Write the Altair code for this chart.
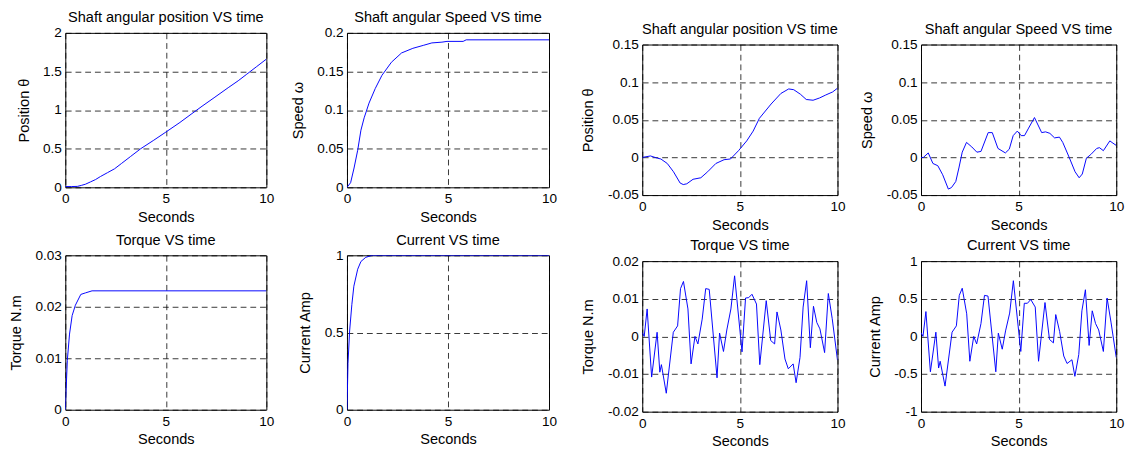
import altair as alt
import pandas as pd

FONT = "Liberation Sans"

# ---------------- data ----------------
# left figure: step response
t_pos_l = [0, 0.3, 0.6, 0.8, 1.0, 1.25, 1.5, 1.75, 2.1, 2.45, 2.8, 3.25, 3.75, 4.4, 5.0,
           5.7, 6.3, 6.8, 7.4, 8.1, 8.6, 9.0, 9.5, 10.0]
pos_l = [0.01, 0.01, 0.012, 0.025, 0.04, 0.07, 0.1, 0.14, 0.19, 0.24, 0.31, 0.40, 0.50, 0.61,
         0.715, 0.84, 0.955, 1.05, 1.16, 1.29, 1.38, 1.46, 1.56, 1.66]

t_spd_l = [0, 0.18, 0.35, 0.53, 0.69, 0.85, 1.09, 1.4, 1.73, 2.2, 2.7, 3.26, 3.8, 4.2, 4.7,
           4.95, 5.75, 5.9, 10]
spd_l = [0, 0.006, 0.025, 0.048, 0.074, 0.09, 0.109, 0.128, 0.145, 0.162, 0.174, 0.180,
         0.184, 0.187, 0.188, 0.189, 0.189, 0.191, 0.191]

t_trq_l = [0, 0.1, 0.21, 0.34, 0.5, 0.77, 1.0, 1.33, 10]
trq_l = [0, 0.0096, 0.0147, 0.0183, 0.0203, 0.0224, 0.0227, 0.0231, 0.0231]

t_cur_l = [0, 0.05, 0.13, 0.24, 0.34, 0.53, 0.69, 0.93, 1.25, 10]
cur_l = [0, 0.3, 0.51, 0.68, 0.80, 0.91, 0.96, 0.987, 1.0, 1.0]

# right figure: noisy response
t_pos_r = [0, 0.42, 0.78, 0.95, 1.28, 1.6, 1.94, 2.1, 2.28, 2.6, 3.0, 3.35, 3.77, 4.19, 4.52,
           4.93, 5.35, 5.68, 6.0, 6.6, 7.1, 7.5, 7.76, 8.1, 8.4, 8.75, 9.08, 9.4, 9.75, 10]
pos_r = [0.0, 0.002, -0.001, -0.002, -0.008, -0.019, -0.034, -0.036, -0.035, -0.029, -0.027,
         -0.019, -0.008, -0.003, -0.002, 0.009, 0.022, 0.035, 0.052, 0.071, 0.085, 0.091,
         0.09, 0.084, 0.077, 0.076, 0.079, 0.083, 0.087, 0.092]

t_spd_r = [0, 0.12, 0.37, 0.61, 0.86, 1.11, 1.4, 1.56, 1.78, 1.94, 2.11, 2.33, 2.6, 2.86, 3.07,
           3.44, 3.65, 3.94, 4.32, 4.52, 4.72, 4.93, 5.13, 5.3, 5.51, 5.81, 6.18, 6.38, 6.6,
           6.84, 7.09, 7.26, 7.59, 7.89, 8.1, 8.26, 8.47, 8.7, 9.0, 9.14, 9.34, 9.67, 9.83, 10]
spd_r = [0, 0.0, 0.006, -0.008, -0.011, -0.023, -0.042, -0.04, -0.032, -0.014, 0.007, 0.020,
         0.014, 0.007, 0.008, 0.033, 0.033, 0.012, 0.006, 0.011, 0.029, 0.035, 0.029, 0.029,
         0.039, 0.053, 0.033, 0.034, 0.032, 0.026, 0.027, 0.020, 0.0, -0.019, -0.027, -0.022,
         -0.001, 0.004, 0.012, 0.013, 0.009, 0.022, 0.019, 0.016]

t_noise = [0, 0.1, 0.25, 0.48, 0.76, 0.9, 0.98, 1.23, 1.59, 1.81, 1.96, 2.11, 2.34, 2.5, 2.7,
           2.85, 3.07, 3.25, 3.43, 3.83, 3.96, 4.16, 4.33, 4.54, 4.73, 5.11, 5.29, 5.45, 5.62,
           5.85, 6.02, 6.35, 6.58, 6.78, 6.9, 7.1, 7.31, 7.48, 7.73, 7.88, 8.08, 8.24, 8.42,
           8.61, 8.77, 8.94, 9.1, 9.34, 9.53, 9.73, 10]
trq_r = [0.001, 0.0, 0.0073, -0.0108, 0.0011, -0.0095, -0.0075, -0.0151, 0.0011, 0.0028,
         0.0127, 0.0146, 0.0073, -0.0073, 0.0, -0.002, 0.0046, 0.0127, 0.0125, -0.011,
         0.0009, -0.004, 0.0017, 0.0073, 0.0161, -0.0041, 0.0102, 0.0103, 0.0112, 0.0086,
         -0.0075, 0.0095, -0.0011, -0.002, 0.0065, 0.0017, -0.006, -0.0086, -0.0073, -0.0123,
         -0.0056, 0.0078, 0.0148, -0.003, 0.008, 0.0037, 0.002, -0.0043, 0.0114, 0.0047, -0.0063]
cur_r = [0.05, 0.0, 0.33, -0.47, 0.056, -0.42, -0.33, -0.66, 0.056, 0.14, 0.545, 0.64, 0.30,
         -0.33, 0.0, -0.1, 0.17, 0.545, 0.536, -0.47, 0.043, -0.17, 0.073, 0.31, 0.74, -0.20,
         0.44, 0.44, 0.49, 0.39, -0.33, 0.45, -0.04, -0.086, 0.29, 0.064, -0.26, -0.36, -0.31,
         -0.53, -0.24, 0.34, 0.62, -0.12, 0.34, 0.17, 0.086, -0.2, 0.51, 0.19, -0.28]

x_ticks = [0, 5, 10]


def panel(t, v, title, ytitle, ydom, yticks, w, h, ytp=12):
    df = pd.DataFrame({"t": t, "v": v})
    return (
        alt.Chart(df, title=alt.TitleParams(text=title, offset=1))
        .mark_line(color="#0000ff", strokeWidth=1, clip=True)
        .encode(
            x=alt.X("t:Q", scale=alt.Scale(domain=[0, 10], nice=False, zero=False),
                    axis=alt.Axis(values=x_ticks, title="Seconds", labelPadding=5,
                                  titlePadding=4, labelFlush=False)),
            y=alt.Y("v:Q", scale=alt.Scale(domain=ydom, nice=False, zero=False),
                    axis=alt.Axis(values=yticks, title=ytitle, labelPadding=4,
                                  titlePadding=ytp)),
        )
        .properties(width=w, height=h)
    )


def spacer(h):
    return (
        alt.Chart(pd.DataFrame({"a": [0]}))
        .mark_point(opacity=0, size=1)
        .encode(x=alt.value(0), y=alt.value(0))
        .properties(width=1, height=h, view=alt.ViewBackground(stroke="transparent"))
    )


p1 = panel(t_pos_l, pos_l, "Shaft angular position VS time", "Position θ", [0, 2],
           [0, 0.5, 1, 1.5, 2], 207, 159, 11)
p2 = panel(t_spd_l, spd_l, "Shaft angular Speed VS time", "Speed ω", [0, 0.2],
           [0, 0.05, 0.1, 0.15, 0.2], 208, 159)
p5 = panel(t_trq_l, trq_l, "Torque VS time", "Torque N.m", [0, 0.03],
           [0, 0.01, 0.02, 0.03], 207, 159)
p6 = panel(t_cur_l, cur_l, "Current VS time", "Current Amp", [0, 1],
           [0, 0.5, 1], 208, 159)

p3 = panel(t_pos_r, pos_r, "Shaft angular position VS time", "Position θ", [-0.05, 0.15],
           [-0.05, 0, 0.05, 0.1, 0.15], 201, 155)
p4 = panel(t_spd_r, spd_r, "Shaft angular Speed VS time", "Speed ω", [-0.05, 0.15],
           [-0.05, 0, 0.05, 0.1, 0.15], 201, 155)
p7 = panel(t_noise, trq_r, "Torque VS time", "Torque N.m", [-0.02, 0.02],
           [-0.02, -0.01, 0, 0.01, 0.02], 201, 155)
p8 = panel(t_noise, cur_r, "Current VS time", "Current Amp", [-1, 1],
           [-1, -0.5, 0, 0.5, 1], 201, 155)

col1 = alt.vconcat(p1, p5, spacing=70, bounds="flush")
col2 = alt.vconcat(p2, p6, spacing=70, bounds="flush")
col3 = alt.vconcat(p3, p7, spacing=68, bounds="flush")
col4 = alt.vconcat(p4, p8, spacing=68, bounds="flush")

# the right-hand figure sits 13 px lower than the left-hand one
left = alt.vconcat(spacer(1), alt.hconcat(col1, col2, spacing=15), spacing=1)
right = alt.vconcat(spacer(13), alt.hconcat(col3, col4, spacing=13), spacing=1)

chart = (
    alt.hconcat(left, right, spacing=23)
    .properties(padding={"left": 0, "top": -9, "right": 0, "bottom": 0},
                background="white")
    .configure_view(stroke="black", strokeWidth=1)
    .configure_axis(
        grid=True, gridColor="black", gridDash=[6, 4], gridOpacity=0.8, gridWidth=1,
        domain=False, ticks=False, tickSize=0,
        labelFont=FONT, labelFontSize=14, labelColor="black",
        labelExpr="'' + datum.value", labelOverlap=False,
        titleFont=FONT, titleFontSize=15, titleFontWeight="normal", titleColor="black",
    )
    .configure_title(font=FONT, fontSize=15, fontWeight="normal", color="black",
                     anchor="middle")
)

chart.save("out.html", embed_options={"renderer": "svg", "actions": False})
